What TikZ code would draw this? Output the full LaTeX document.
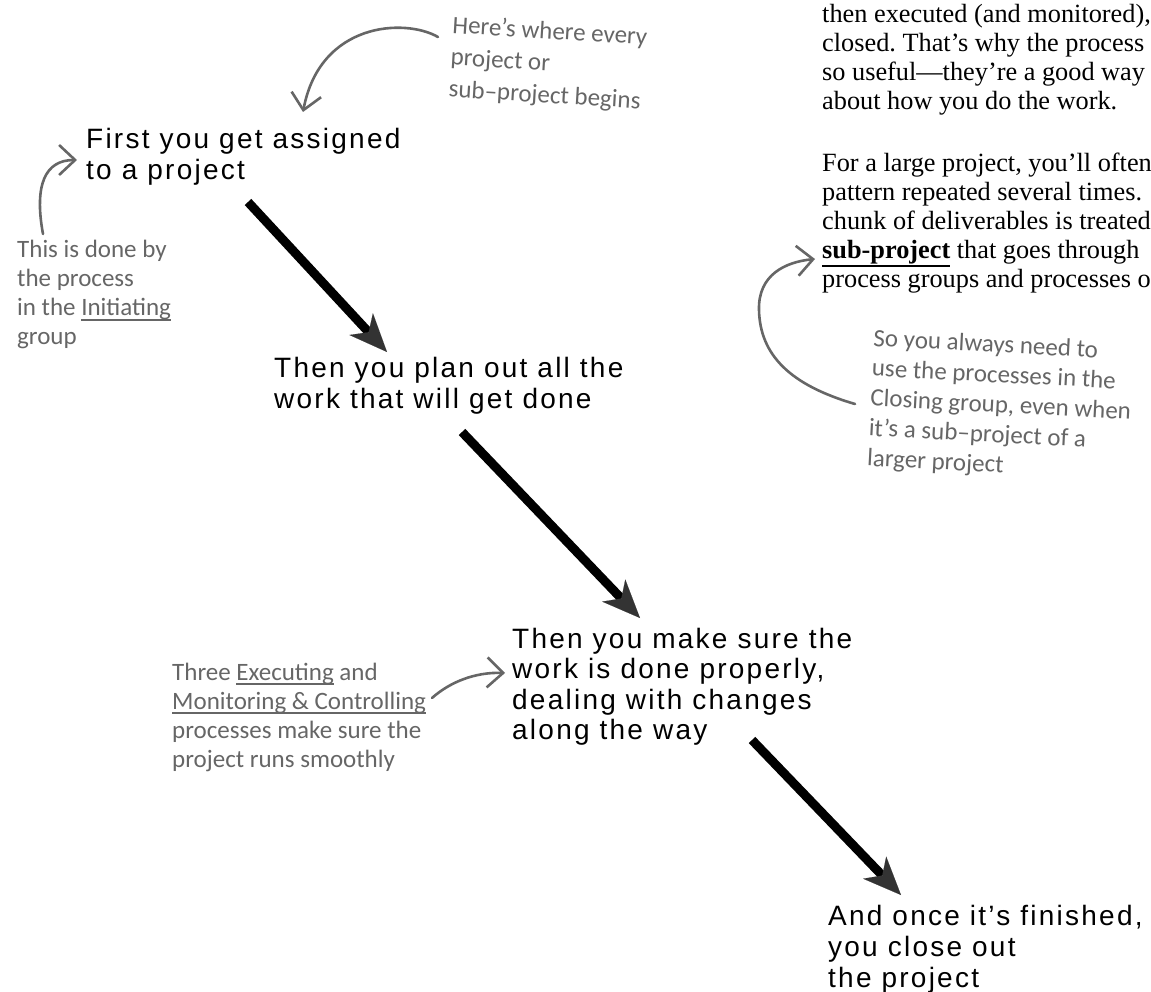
\documentclass[tikz,border=0pt]{standalone}
\usepackage{fontspec}
\usetikzlibrary{arrows.meta}
\newfontfamily\stepfont[LetterSpace=8]{Liberation Sans}
\newfontfamily\handfont{Carlito}
\newfontfamily\bodyfont{Liberation Serif}
\definecolor{hand}{HTML}{666666}
\definecolor{headgrey}{HTML}{333333}
\frenchspacing
\newcommand\stk[2]{\vtop{\baselineskip=#1\relax\lineskiplimit=-20pt\halign{##\hfil\cr#2\crcr}}}
\newcommand\hul[1]{\setbox0=\hbox{#1}\rlap{\raisebox{-5pt}{\rule{\wd0}{1.6pt}}}\box0\relax}
\newcommand\bul[1]{\setbox0=\hbox{#1}\rlap{\raisebox{-8pt}{\color{black}\rule{\wd0}{2.4pt}}}\box0\relax}
\tikzset{
  stepnode/.style={anchor=base west, inner sep=0pt, font=\stepfont\fontsize{28pt}{31pt}\selectfont},
  handnode/.style={anchor=base west, inner sep=0pt, text=hand, font=\handfont\fontsize{25pt}{29pt}\selectfont},
  bodynode/.style={anchor=base west, inner sep=0pt, font=\bodyfont\fontsize{26.3pt}{29pt}\selectfont},
  bigarrow/.style={line width=9pt, -{Stealth[length=38pt,width=32pt,inset=11pt,line width=0.1pt,color=headgrey]}},
  handarrow/.style={draw=hand, line width=2.6pt, line cap=round, -{Straight Barb[length=16pt,width=30pt,line width=2.6pt]}}
}
\begin{document}
\begin{tikzpicture}[x=1pt,y=-1pt]
\useasboundingbox (0,0) rectangle (1151,992);
% main steps
\node[stepnode] (s1) at (86,149) {\stk{31pt}{First you get assigned\cr to a project}};
\node[stepnode] (s2) at (274,377) {\stk{31pt}{Then you plan out all the\cr work that will get done}};
\node[stepnode] (s3) at (512,648) {\stk{30.5pt}{Then you make sure the\cr work is done properly,\cr dealing with changes\cr along the way}};
\node[stepnode] (s4) at (828,925) {\stk{31pt}{And once it’s finished,\cr you close out\cr the project}};
% big arrows
\coordinate (a1s) at (248,202); \coordinate (a1e) at (387,352);
\coordinate (a2s) at (462,432); \coordinate (a2e) at (640,618);
\coordinate (a3s) at (752,740); \coordinate (a3e) at (901,895);
\draw[bigarrow] (a1s) -- (a1e);
\draw[bigarrow] (a2s) -- (a2e);
\draw[bigarrow] (a3s) -- (a3e);
% handwritten notes
\node[handnode, rotate=-3.5] (h1) at (452,33) {\stk{32pt}{Here’s where every\cr project or\cr sub–project begins}};
\node[handnode] (h2) at (17,258) {\stk{29pt}{This is done by\cr the process\cr in the \hul{Initiating}\cr group}};
\node[handnode, rotate=-3] (h3) at (873,346) {\stk{30pt}{So you always need to\cr use the processes in the\cr Closing group, even when\cr it’s a sub–project of a\cr larger project}};
\node[handnode] (h4) at (172,680) {\stk{29pt}{Three \hul{Executing} and\cr \hul{Monitoring \& Controlling}\cr processes make sure the\cr project runs smoothly}};
% body text
\begin{scope}
\clip (0,0) rectangle (1151,992);
\node[bodynode] (b1) at (822,23) {\stk{29pt}{then executed (and monitored),\cr closed. That’s why the process g\cr so useful—they’re a good way t\cr about how you do the work.}};
\node[bodynode] (b2) at (822,172) {\stk{29pt}{For a large project, you’ll often\cr pattern repeated several times.\cr chunk of deliverables is treated\cr \bul{\textbf{sub-project}} that goes through\cr process groups and processes o}};
\end{scope}
% hand arrows
\coordinate (g1s) at (438,37); \coordinate (g1e) at (303,112);
\draw[handarrow] (g1s) .. controls (405,18) and (320,22) .. (g1e);
\coordinate (g2s) at (43,234); \coordinate (g2e) at (77,160);
\draw[handarrow] (g2s) .. controls (34,185) and (45,160) .. (g2e);
\coordinate (g3s) at (432,698); \coordinate (g3e) at (505,673);
\draw[handarrow] (g3s) .. controls (450,682) and (475,672) .. (g3e);
\coordinate (g4s) at (855,404); \coordinate (g4m) at (759,310); \coordinate (g4e) at (815,259);
\draw[handarrow] (g4s) .. controls (790,385) and (760,355) .. (g4m) .. controls (758,275) and (785,262) .. (g4e);
\end{tikzpicture}
\end{document}
